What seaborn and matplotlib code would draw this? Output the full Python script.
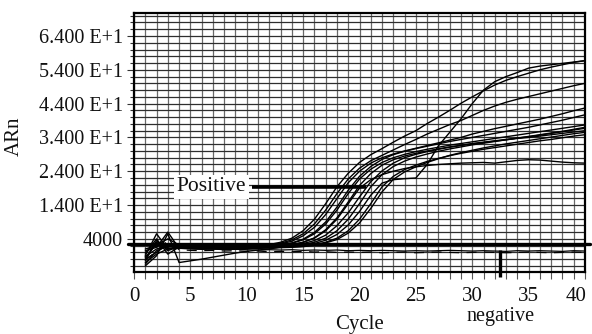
import numpy as np
import pandas as pd
import matplotlib
matplotlib.use("Agg")
import matplotlib.pyplot as plt
import matplotlib.transforms as mtransforms
import seaborn as sns

cycles = list(range(1, 41))

curve_a = [-2.5, 3.5, 0.5, 1.8, 1.6, 1.5, 1.4, 1.5, 1.6, 1.7,
           1.8, 2.3, 3.0, 4.2, 6.4, 9.8, 14.4, 19.4, 23.4, 26.6,
           28.9, 30.7, 32.6, 34.4, 36.0, 38.1, 40.0, 42.0, 44.1, 46.0,
           47.8, 49.5, 50.9, 52.0, 53.0, 54.0, 54.8, 55.5, 56.2, 56.7]
curve_b = [-1.0, 5.5, 1.0, 1.5, 1.4, 1.3, 1.5, 1.4, 1.5, 1.6,
           1.7, 2.1, 2.7, 3.7, 5.5, 8.4, 12.5, 17.4, 21.7, 24.9,
           27.1, 28.7, 30.3, 31.9, 33.4, 35.0, 36.4, 37.8, 39.0, 40.5,
           42.0, 43.3, 44.4, 45.3, 46.1, 46.9, 47.7, 48.5, 49.3, 50.0]
curve_c = [0.5, 1.5, 6.0, 1.2, 1.3, 1.4, 1.2, 1.3, 1.5, 1.4,
           1.6, 2.0, 2.5, 3.3, 4.9, 7.4, 11.2, 15.9, 20.6, 24.0,
           26.4, 28.0, 29.1, 30.0, 30.8, 31.6, 32.4, 33.2, 34.0, 35.0,
           35.8, 36.6, 37.3, 38.0, 38.7, 39.4, 40.2, 41.0, 41.9, 42.7]
curve_d = [-3.5, 0.5, 1.8, 1.6, 1.2, 1.0, 1.1, 1.2, 1.0, 1.2,
           1.3, 1.7, 2.2, 2.8, 3.9, 5.9, 9.0, 13.4, 18.4, 22.5,
           25.4, 27.5, 28.9, 29.9, 30.7, 31.4, 32.1, 32.8, 33.4, 34.0,
           34.6, 35.2, 35.8, 36.4, 37.0, 37.7, 38.4, 39.1, 39.9, 40.7]
curve_e = [-1.5, 2.5, 2.0, 1.4, 1.5, 1.3, 1.4, 1.5, 1.3, 1.4,
           1.5, 1.7, 2.1, 2.7, 3.7, 5.5, 8.4, 12.5, 17.4, 21.7,
           24.6, 26.6, 28.0, 29.0, 29.8, 30.5, 31.1, 31.7, 32.2, 32.7,
           33.2, 33.7, 34.2, 34.7, 35.2, 35.7, 36.2, 36.7, 37.2, 37.7]
curve_f = [-4.0, -1.0, 5.5, -3.0, -2.5, -2.0, -1.4, -0.8, -0.2, 0.3,
           0.7, 1.0, 1.6, 2.2, 3.0, 4.3, 6.7, 10.2, 14.9, 19.8,
           23.3, 25.8, 27.4, 28.5, 29.3, 30.0, 30.6, 31.2, 31.7, 32.2,
           32.6, 33.0, 33.4, 33.8, 34.2, 34.7, 35.2, 35.7, 36.2, 36.7]
curve_g = [1.0, 2.0, 1.5, 2.0, 1.8, 1.7, 1.6, 1.5, 1.6, 1.5,
           1.6, 1.7, 1.9, 2.1, 2.6, 3.5, 5.1, 7.9, 11.7, 16.4,
           20.9, 24.1, 26.4, 28.0, 29.0, 29.8, 30.5, 31.1, 31.6, 32.1,
           32.5, 32.9, 33.3, 33.7, 34.0, 34.4, 34.8, 35.2, 35.6, 36.0]
curve_h = [-2.0, 0.0, 2.5, 1.5, 1.2, 1.1, 1.0, 1.1, 1.2, 1.3,
           1.3, 1.4, 1.5, 1.7, 2.0, 2.6, 3.6, 5.3, 8.1, 12.1,
           16.9, 20.5, 21.5, 21.8, 22.0, 26.0, 31.5, 35.5, 39.5, 44.0,
           48.0, 50.5, 52.0, 53.2, 54.5, 55.1, 55.5, 55.9, 56.3, 56.7]
curve_i = [-0.5, 4.0, -0.5, 1.6, 1.3, 1.2, 1.1, 1.0, 1.1, 1.2,
           1.2, 1.3, 1.4, 1.5, 1.8, 2.3, 3.0, 4.2, 6.4, 9.8,
           14.4, 19.4, 22.5, 24.5, 25.8, 26.9, 27.8, 28.6, 29.3, 29.9,
           30.5, 31.0, 31.5, 32.0, 32.5, 33.0, 33.4, 33.9, 34.4, 34.8]
curve_j = [-3.0, -0.5, 1.0, 1.8, 1.5, 1.4, 1.3, 1.2, 1.2, 1.3,
           1.4, 1.4, 1.5, 1.6, 1.7, 2.1, 2.8, 3.8, 5.7, 8.7,
           13.0, 17.9, 21.6, 23.8, 25.3, 26.6, 27.7, 28.7, 29.5, 30.2,
           30.9, 31.5, 32.1, 32.6, 33.1, 33.6, 34.1, 34.6, 35.1, 35.5]
curve_k = [0.0, 2.2, 4.0, 2.2, 1.9, 1.7, 1.6, 1.6, 1.5, 1.6,
           1.6, 1.7, 1.8, 1.9, 2.3, 3.0, 4.2, 6.4, 9.8, 14.4,
           19.4, 23.0, 25.4, 27.0, 28.2, 29.1, 29.9, 30.6, 31.2, 31.8,
           32.3, 32.8, 33.3, 33.8, 34.3, 34.8, 35.3, 35.8, 36.4, 37.0]
curve_l = [-1.2, 1.0, 2.0, 1.7, 1.4, 1.3, 1.2, 1.3, 1.4, 1.3,
           1.4, 1.5, 1.8, 2.3, 3.0, 4.2, 6.4, 9.8, 14.4, 19.0,
           21.5, 23.0, 24.0, 24.8, 25.3, 25.7, 26.0, 26.2, 26.4, 26.5,
           26.6, 26.4, 26.8, 27.2, 27.4, 27.3, 27.0, 26.7, 26.5, 26.4]
negative_1 = [-2.0, 3.0, 1.0, 1.2, 1.0, 0.9, 1.0, 0.8, 0.9, 0.8,
              0.7, 0.8, 0.7, 0.8, 0.6, 0.7, 0.6, 0.7, 0.5, 0.6,
              0.5, 0.6, 0.5, 0.4, 0.5, 0.4, 0.5, 0.6, 0.5, 0.4,
              0.5, 0.4, 0.3, 0.5, 0.4, 0.5, 0.4, 0.3, 0.5, 0.4]
negative_2 = [-2.5, 0.5, 3.5, 0.8, 0.6, 0.5, 0.6, 0.4, 0.5, 0.3,
              0.4, 0.2, 0.3, 0.2, 0.3, 0.1, 0.2, 0.0, 0.1, 0.0,
              0.1, -0.1, 0.0, 0.1, -0.1, 0.0, 0.1, 0.0, -0.1, 0.0,
              0.1, 0.0, -0.1, 0.0, 0.1, 0.0, -0.1, 0.0, 0.1, 0.0]

ytick_values = [4, 14, 24, 34, 44, 54, 64]
ytick_labels = ["4000", "1.400 E+1", "2.400 E+1", "3.400 E+1",
                "4.400 E+1", "5.400 E+1", "6.400 E+1"]
xtick_values = [0, 5, 10, 15, 20, 25, 30, 35, 40]
threshold = 2.4
positive_level = 19.4
negative_cycle = 32.5

positives = {"A": curve_a, "B": curve_b, "C": curve_c, "D": curve_d,
             "E": curve_e, "F": curve_f, "G": curve_g, "H": curve_h,
             "I": curve_i, "J": curve_j, "K": curve_k, "L": curve_l}

pos_df = pd.concat([pd.DataFrame({"cycle": cycles, "value": v, "well": k})
                    for k, v in positives.items()], ignore_index=True)
neg1_df = pd.DataFrame({"cycle": cycles, "value": negative_1})
neg2_df = pd.DataFrame({"cycle": cycles, "value": negative_2})

sns.set_theme(style="white")
plt.rcParams["font.family"] = ["Liberation Serif", "DejaVu Serif"]

fig = plt.figure(figsize=(5.92, 3.34), dpi=100)
ax = fig.add_axes([134 / 592, 1 - 272 / 334, (585 - 134) / 592, (272 - 13) / 334])

sns.lineplot(data=pos_df, x="cycle", y="value", units="well", estimator=None,
             color="black", linewidth=1.0, ax=ax, legend=False, zorder=3)
sns.lineplot(data=neg1_df, x="cycle", y="value", color="black",
             linewidth=0.9, ax=ax, zorder=3)
sns.lineplot(data=neg2_df, x="cycle", y="value", color="black",
             linewidth=0.9, ax=ax, zorder=3, linestyle=(0, (8, 6)))

ax.set_xlim(0, 40)
ax.set_ylim(-5.8, 70.8)
ax.set_xticks(xtick_values)
ax.set_xticklabels([str(v) for v in xtick_values])
ax.set_xticks(np.arange(0, 41, 1), minor=True)
ax.set_yticks(ytick_values)
ax.set_yticklabels(ytick_labels)
ax.set_yticks(np.arange(-4, 71, 2), minor=True)

ax.grid(which="both", axis="x", color="#6a6a6a", linewidth=0.9, zorder=0)
ax.grid(which="both", axis="y", color="#2e2e2e", linewidth=0.9, zorder=0)
ax.set_axisbelow(True)

ax.tick_params(axis="x", which="both", direction="out", length=5, width=0.8,
               color="#555555", bottom=True, labelsize=15, pad=6)
ax.tick_params(axis="y", which="major", direction="out", length=5, width=0.8,
               color="#333333", left=True, labelsize=14.5, pad=3)
ax.tick_params(axis="y", which="minor", direction="out", length=3, width=0.8,
               color="#333333", left=True)
for lab in ax.get_xticklabels() + ax.get_yticklabels():
    lab.set_color("#111111")
# keep the last x label inside the figure, as in the reference
last = ax.get_xticklabels()[-1]
last.set_transform(last.get_transform() +
                   mtransforms.ScaledTranslation(-9 / 100, 0, fig.dpi_scale_trans))

for side in ["top", "bottom", "left", "right"]:
    ax.spines[side].set_visible(True)
    ax.spines[side].set_color("black")
    ax.spines[side].set_linewidth(1.6)

ax.set_xlabel("")
ax.set_ylabel("")

# threshold line
ax.plot([-0.55, 40.45], [threshold, threshold], color="black", linewidth=2.4,
        clip_on=False, zorder=4)
# Positive annotation
ax.text(6.85, positive_level, "Positive", fontsize=15.5, ha="center", va="center",
        color="#111111", zorder=5,
        bbox=dict(boxstyle="square,pad=0.12", facecolor="white", edgecolor="none"))
ax.plot([10.45, 20.6], [positive_level, positive_level], color="black",
        linewidth=2.6, zorder=4, solid_capstyle="butt")
# negative marker
ax.plot([negative_cycle, negative_cycle], [0.8, -7.4], color="black",
        linewidth=2.4, clip_on=False, zorder=4, solid_capstyle="butt")

fig.text(501 / 592, 1 - 317 / 334, "negative", fontsize=14.5, ha="center",
         va="center", color="#111111")
fig.text(359 / 592, 1 - 325 / 334, "Cycle", fontsize=15, ha="center",
         va="center", color="#111111")
fig.text(14 / 592, 1 - 136 / 334, "ARn", fontsize=15, ha="center",
         va="center", rotation=90, color="#111111")

fig.savefig("out.png", dpi=100)
